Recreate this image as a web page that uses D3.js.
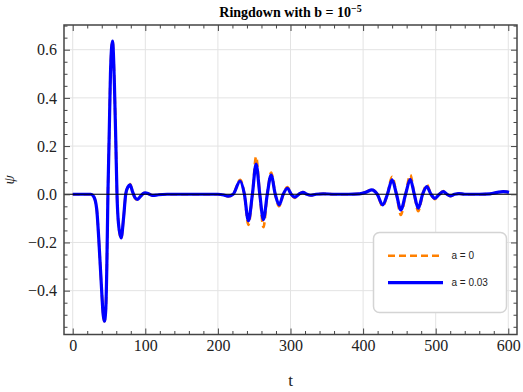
<!DOCTYPE html>
<html>
<head>
<meta charset="utf-8">
<script src="https://cdn.jsdelivr.net/npm/d3@7"></script>
<style>
  html, body { margin: 0; padding: 0; background: #fff; }
  svg { display: block; }
</style>
</head>
<body>
<svg id="chart" width="523" height="392"></svg>
<script>
// ---- data ----
const times = [0, 20, 25, 29, 33, 36, 39.5, 42, 43.7, 45.5, 47, 48.5, 50.3, 52, 54.8, 57.5, 59.5, 61, 63, 66.7, 70, 73, 76, 79, 82.5, 86, 89, 93, 97, 100, 105, 110, 118, 130,
  150, 200, 208, 214, 221, 230.6, 236.5, 242, 247.5, 252.6, 257.7, 262.7, 268, 273.3, 279, 284.3, 290, 295.7, 301, 306, 311.5, 317, 322.5, 328, 335, 345, 360, 380,
  395, 405, 412, 419.5, 427, 433.5, 440, 446, 452, 458.5, 465, 470.5, 476, 482, 487.7, 493.5, 499, 505, 510.6, 515.5, 520, 526, 532, 540, 560, 575, 585, 593, 598, 601];

const psiA003 = [0, 0, 0, -0.01, -0.06, -0.19, -0.38, -0.5, -0.527, -0.48, -0.3, 0, 0.25, 0.5, 0.636, 0.45, 0.2, 0, -0.12, -0.181, -0.1, 0, 0.03, 0.039, 0.01, -0.015, -0.021, -0.01, 0.003, 0.006, 0.001, -0.005, -0.002, 0,
  0, 0, -0.003, -0.008, 0, 0.055, 0, -0.11, 0, 0.125, 0, -0.105, 0, 0.08, 0, -0.044, 0, 0.025, 0, -0.012, 0, 0.008, 0, -0.004, 0, 0.002, 0, 0,
  0.002, 0.01, 0.018, 0, -0.044, 0, 0.06, 0, -0.065, 0, 0.062, 0, -0.058, 0, 0.032, 0, -0.017, 0, 0.011, 0, -0.007, 0, 0.003, 0, 0, 0.002, 0.008, 0.011, 0.01, 0.008];

const psiA0 = [0, 0, 0, -0.01, -0.06, -0.19, -0.38, -0.5, -0.527, -0.48, -0.3, 0, 0.25, 0.5, 0.636, 0.45, 0.2, 0, -0.12, -0.185, -0.1, 0, 0.032, 0.042, 0.01, -0.017, -0.024, -0.01, 0.003, 0.006, 0.001, -0.005, -0.002, 0,
  0, 0, -0.003, -0.009, 0, 0.06, 0, -0.127, 0, 0.155, 0, -0.137, 0, 0.09, 0, -0.05, 0, 0.03, 0, -0.015, 0, 0.009, 0, -0.005, 0, 0.002, 0, 0,
  0.002, 0.011, 0.02, 0, -0.05, 0, 0.073, 0, -0.086, 0, 0.08, 0, -0.07, 0, 0.04, 0, -0.02, 0, 0.013, 0, -0.008, 0, 0.003, 0, 0, 0.002, 0.008, 0.011, 0.01, 0.008];

const xTicks = [0, 100, 200, 300, 400, 500, 600];
const yTicks = [-0.4, -0.2, 0.0, 0.2, 0.4, 0.6];
const seriesNames = ["a = 0", "a = 0.03"];
const seriesColors = ["#ff8000", "#0000ff"];

// ---- layout ----
const svg = d3.select("#chart");
const L = 64, R = 517, T = 25, B = 334.5;
const x = d3.scaleLinear().domain([-12, 612]).range([L, R]);
const y = d3.scaleLinear().domain([-0.582, 0.7025]).range([B, T]);

const serif = "'Liberation Serif', 'Times New Roman', serif";

// grid
const g = svg.append("g");
g.selectAll(".gx").data(xTicks).enter().append("line")
  .attr("x1", d => x(d)).attr("x2", d => x(d)).attr("y1", T).attr("y2", B)
  .attr("stroke", "#e3e3e3").attr("stroke-width", 1);
g.selectAll(".gy").data(yTicks).enter().append("line")
  .attr("x1", L).attr("x2", R).attr("y1", d => y(d)).attr("y2", d => y(d))
  .attr("stroke", "#e3e3e3").attr("stroke-width", 1);

// curves
const pts = arr => times.map((t, i) => [t, arr[i]]);
const line = d3.line().x(d => x(d[0])).y(d => y(d[1])).curve(d3.curveMonotoneX);

const clip = svg.append("clipPath").attr("id", "clip").append("rect")
  .attr("x", L).attr("y", T).attr("width", R - L).attr("height", B - T);
const plot = svg.append("g").attr("clip-path", "url(#clip)");

plot.append("path").datum(pts(psiA0)).attr("d", line)
  .attr("fill", "none").attr("stroke", seriesColors[0]).attr("stroke-width", 2.6)
  .attr("stroke-dasharray", "7,4");
plot.append("path").datum(pts(psiA003)).attr("d", line)
  .attr("fill", "none").attr("stroke", seriesColors[1]).attr("stroke-width", 3.2)
  .attr("stroke-linejoin", "round");

// zero line
plot.append("line").attr("x1", L).attr("x2", R).attr("y1", y(0)).attr("y2", y(0))
  .attr("stroke", "#000").attr("stroke-width", 1.1);

// axes with inward ticks on all sides
const xMinor = d3.range(0, 601, 20).filter(v => v % 100 !== 0);
const yMinor = d3.range(-0.55, 0.701, 0.05).map(v => Math.round(v * 100) / 100).filter(v => Math.abs(Math.round(v * 10) / 10 - v) > 1e-6 || Math.round(v * 10) % 2 !== 0);

function addAxis(axisFn, scale, ticks, size, transform, fmt) {
  const a = svg.append("g").attr("transform", transform)
    .call(axisFn(scale).tickValues(ticks).tickSize(size).tickFormat(fmt));
  a.select(".domain").remove();
  a.selectAll(".tick line").attr("stroke", "#444").attr("stroke-width", 1);
  return a;
}
const fmtY = d => d3.format(".1f")(d).replace("-", "\u2212");
// bottom
const xb = addAxis(d3.axisBottom, x, xTicks, -6, `translate(0,${B})`, d => d);
xb.selectAll("text").attr("font-family", serif).attr("font-size", 16).attr("fill", "#222").attr("dy", "0.71em").attr("y", 5);
addAxis(d3.axisBottom, x, xMinor, -3.5, `translate(0,${B})`, "");
// top
addAxis(d3.axisTop, x, xTicks, -6, `translate(0,${T})`, "");
addAxis(d3.axisTop, x, xMinor, -3.5, `translate(0,${T})`, "");
// left
const yl = addAxis(d3.axisLeft, y, yTicks, -6, `translate(${L},0)`, fmtY);
yl.selectAll("text").attr("font-family", serif).attr("font-size", 16).attr("fill", "#222").attr("x", -7);
addAxis(d3.axisLeft, y, yMinor, -3.5, `translate(${L},0)`, "");
// right
addAxis(d3.axisRight, y, yTicks, -6, `translate(${R},0)`, "");
addAxis(d3.axisRight, y, yMinor, -3.5, `translate(${R},0)`, "");

// frame
svg.append("rect").attr("x", L).attr("y", T).attr("width", R - L).attr("height", B - T)
  .attr("fill", "none").attr("stroke", "#444").attr("stroke-width", 1.5);

// title
const title = svg.append("text").attr("x", (L + R) / 2).attr("y", 17)
  .attr("text-anchor", "middle").attr("font-family", serif).attr("font-weight", "bold").attr("font-size", 14);
title.append("tspan").text("Ringdown with b = 10");
title.append("tspan").attr("dy", -5).attr("font-size", 10).text("\u22125");

// axis labels
svg.append("text").attr("x", (L + R) / 2).attr("y", 386).attr("text-anchor", "middle")
  .attr("font-family", serif).attr("font-size", 17).attr("fill", "#222").text("t");
svg.append("text").attr("transform", `translate(14,${(T + B) / 2}) rotate(-90)`).attr("text-anchor", "middle")
  .attr("font-family", serif).attr("font-style", "italic").attr("font-size", 15).attr("fill", "#222").text("\u03c8");

// legend
const lg = svg.append("g");
lg.append("rect").attr("x", 373.5).attr("y", 232.5).attr("width", 133).attr("height", 80)
  .attr("rx", 6).attr("ry", 6).attr("fill", "#fff").attr("stroke", "#d4d4d4").attr("stroke-width", 1.5);
const legY = [255.7, 282.7];
seriesNames.forEach((name, i) => {
  lg.append("line").attr("x1", 388).attr("x2", 443).attr("y1", legY[i]).attr("y2", legY[i])
    .attr("stroke", seriesColors[i]).attr("stroke-width", i === 0 ? 2.6 : 3.2)
    .attr("stroke-dasharray", i === 0 ? "7,4" : null);
  lg.append("text").attr("x", 451.5).attr("y", legY[i]).attr("dy", "0.35em")
    .attr("font-family", "'Liberation Sans', Arial, sans-serif").attr("font-size", 10).attr("fill", "#222").text(name);
});
</script>
</body>
</html>
